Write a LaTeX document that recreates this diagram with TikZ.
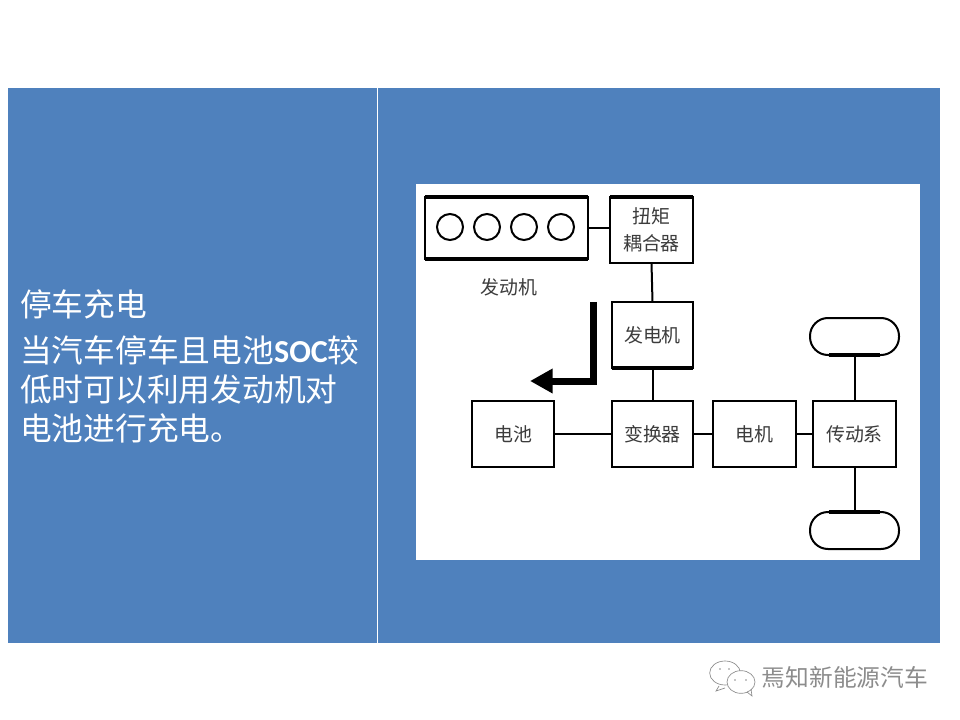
\documentclass[tikz,border=0pt]{standalone}
\usepackage{fontspec}
\setmainfont{Noto Sans CJK SC}
\newfontfamily\socfont{Carlito}
\usetikzlibrary{arrows.meta}
\definecolor{panelblue}{HTML}{4F81BD}
\definecolor{labelgray}{HTML}{3C3C3C}
\definecolor{markgray}{HTML}{8C8C8C}
\tikzset{
  part/.style={draw=black,line width=1.5pt,fill=white,text=labelgray,font=\fontsize{14.2}{16}\selectfont,
    align=center,inner sep=0pt,outer sep=0pt},
  wheel/.style={part,minimum width=66.75pt,minimum height=27.75pt,rounded corners=13.5pt},
  link/.style={line width=1.5pt},
  heavy/.style={line width=3pt},
  cylinder/.style={circle,draw=black,line width=1.5pt,inner sep=0pt,minimum size=19.5pt},
  slidetext/.style={anchor=west,text=white,inner sep=0pt,font=\fontsize{23.8}{26}\selectfont},
}
\begin{document}
\begin{tikzpicture}[x=.75pt,y=-.75pt]
\useasboundingbox (0,0) rectangle (960,720);
\fill[white] (0,0) rectangle (960,720);
\fill[panelblue] (8,88) rectangle (940,643);
\draw[white,line width=.6pt] (377,88) -- (377,643);
\fill[white] (416,184) rectangle (920,560);

% left column
\node[slidetext] (title)  at (20,304) {停车充电};
\node[slidetext] (line1)  at (20,350) {当汽车停车且电池{\socfont\bfseries\fontsize{24}{26}\selectfont SOC}较};
\node[slidetext] (line2)  at (20,389) {低时可以利用发动机对};
\node[slidetext] (line3)  at (20,428) {电池进行充电。};

% parts
\node[part,minimum width=122.25pt,minimum height=46.5pt] (engine)  at (506.5,228) {};
\node[part,minimum width=62.25pt,minimum height=49.5pt]  (torque)  at (651.5,230) {扭矩\\[4pt]耦合器};
\node[part,minimum width=60.75pt,minimum height=49.5pt]  (gen)     at (652.5,335) {发电机};
\node[part,minimum width=61.5pt,minimum height=49.5pt]   (battery) at (513,434)   {电池};
\node[part,minimum width=60.75pt,minimum height=49.5pt]  (conv)    at (652.5,434) {变换器};
\node[part,minimum width=62.25pt,minimum height=49.5pt]  (motor)   at (754.5,434) {电机};
\node[part,minimum width=62.25pt,minimum height=49.5pt]  (trans)   at (854.5,434) {传动系};
\node[wheel] (wheeltop) at (854.5,336.5) {};
\node[wheel] (wheelbot) at (854.5,530.5) {};
\node[text=labelgray,font=\fontsize{14.2}{16}\selectfont,inner sep=0pt] (enginelabel) at (509,287) {发动机};

% cylinders
\foreach \name/\x in {cyla/450,cylb/487,cylc/524,cyld/561}
  \node[cylinder] (\name) at (\x,227) {};

% links
\draw[link] (engine.east)  -- (engine.east -| torque.west);
\draw[link] (torque.south) -- (gen.north);
\draw[link] (gen.south)    -- (conv.north);
\draw[link] (battery.east) -- (conv.west);
\draw[link] (conv.east)    -- (motor.west);
\draw[link] (motor.east)   -- (trans.west);
\draw[link] (trans.north)  -- (wheeltop.south);
\draw[link] (trans.south)  -- (wheelbot.north);

% heavier edges
\draw[heavy] (engine.north west) -- (engine.north east);
\draw[heavy] (engine.south west) -- (engine.south east);
\draw[heavy] (torque.north west) -- (torque.north east);
\draw[heavy] (gen.south west)    -- (gen.south east);
\draw[heavy] ([xshift=14pt]wheeltop.south west) -- ([xshift=-14pt]wheeltop.south east);
\draw[heavy] ([xshift=14pt]wheelbot.north west) -- ([xshift=-14pt]wheelbot.north east);

% charging flow
\coordinate (flowstart) at (593,302);
\coordinate (flowbend)  at (593,381);
\coordinate (flowend)   at (530,381);
\draw[line width=5.25pt,-{Triangle[length=17pt,width=17.5pt]}]
    (flowstart) -- (flowbend) -- (flowend);

% account mark
\draw[markgray,line width=.5pt] (725,673) ellipse (11.5pt and 9pt);
\draw[markgray,line width=.5pt] (719,686) -- (716,691) -- (725,688);
\draw[markgray,line width=.5pt,fill=white] (741,682) ellipse (10.5pt and 8.5pt);
\draw[markgray,line width=.5pt] (747,692) -- (752,696) -- (751,689);
\fill[markgray] (735,680) circle (.7pt) (746,680) circle (.7pt) (720,669) circle (.7pt) (729,669) circle (.7pt);
\node[text=markgray,font=\fontsize{17.8}{20}\selectfont,inner sep=0pt] (account) at (845,677) {焉知新能源汽车};
\end{tikzpicture}
\end{document}
